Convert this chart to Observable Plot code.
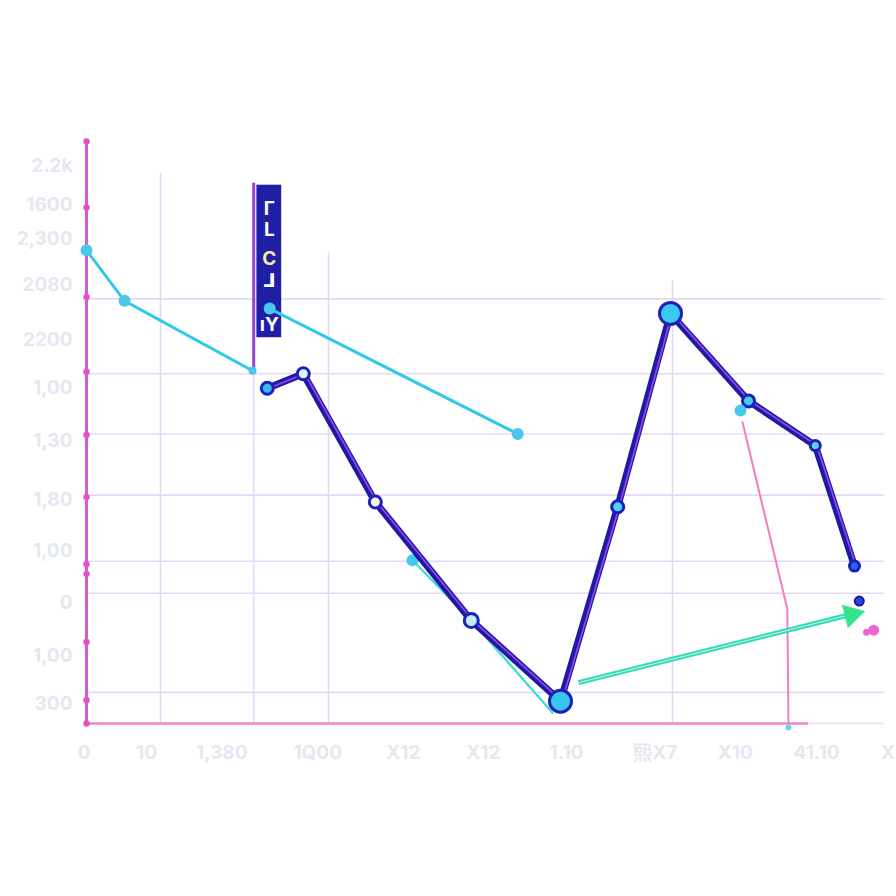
<!DOCTYPE html>
<html>
<head>
<meta charset="utf-8">
<script src="https://cdn.jsdelivr.net/npm/d3@7"></script>
<script src="https://cdn.jsdelivr.net/npm/@observablehq/plot@0.6"></script>
<style>
  html, body { margin: 0; padding: 0; background: #ffffff; }
  #chart svg { display: block; }
</style>
</head>
<body>
<div id="chart"></div>
<script>
// ---- data ----
const yTickValues = [574, 534, 499, 451, 395, 345, 291, 230, 178, 124, 70, 20];
const yTickLabels = ["2.2k", "1600", "2,300", "2080", "2200", "1,00", "1,30", "1,80", "1,00", "0", "1,00", "300"];
const xTickValues = [-0.3, 7.5, 16.9, 28.9, 39.6, 49.6, 60, 71.1, 81.1, 91.25, 100.2];
const xTickLabels = ["0", "10", "1,380", "1Q00", "X12", "X12", "1.10", "熙X7", "X10", "41.10", "X"];

const gridY = [437, 360, 298, 235, 167, 134, 32];
const gridX = [9.25, 20.9, 30.25, 73.25];
const gridXTop = [566, 556, 484, 456];

// cyan series (two segments)
const cyanAx = [0, 4.75, 20.75];
const cyanAy = [487, 435, 363];
const cyanAr = [6, 6, 4];
const cyanBx = [22.9, 53.9];
const cyanBy = [427, 298];
const cyanBr = [6, 6];

// navy main series
const navyX = [22.6, 27.1, 36.1, 48.1, 59.25, 66.4, 73.0, 82.75, 91.1, 96.0];
const navyY = [345, 360, 228, 106, 23, 223, 422, 332, 286, 162];
const navyR = [6, 6, 6, 7, 11, 6, 11, 6, 5, 5];
const navyFill = ["#3ab8f0", "#dff3ff", "#f4f6e6", "#c4ebfa", "#39c6ee", "#55d0f0", "#3cc8ef", "#48ccee", "#5fd4f2", "#2a66e8"];
const navyExtraX = [96.6];
const navyExtraY = [126];

// teal series
const tealX = [40.75, 48.1, 58.25];
const tealY = [168, 106, 11];

// green arrow
const arrowX1 = [61.5], arrowY1 = [42], arrowX2 = [96.4], arrowY2 = [114];

// pink series
const pinkX = [82, 87.6, 87.75];
const pinkY = [310, 118, 0];

// stray points
const loneCyanX = [81.75], loneCyanY = [322];
const pinkDotX = [98.4, 97.5], pinkDotY = [96, 94];
const axisDotY = [599, 531, 439, 362, 297, 233, 164, 154, 84, 24, 0];

// banner (garbled legend)
const bannerX1 = 21.3, bannerX2 = 24.4, bannerY1 = 397, bannerY2 = 554;
const bannerGlyphs = ["Γ", "L", "C", "⅃", "ıY"];
const bannerGlyphY = [530, 508, 478, 455, 410];
const bannerGlyphColor = ["#ffffff", "#ffffff", "#f3e9a8", "#ffffff", "#ffffff"];

// ---- build tables ----
const zip = (xs, ys, extra = {}) => xs.map((x, i) => {
  const o = {x, y: ys[i]};
  for (const k in extra) o[k] = extra[k][i];
  return o;
});
const cyanA = zip(cyanAx, cyanAy, {r: cyanAr});
const cyanB = zip(cyanBx, cyanBy, {r: cyanBr});
const navy = zip(navyX, navyY, {r: navyR, fill: navyFill});
const teal = zip(tealX, tealY);
const pink = zip(pinkX, pinkY);
const yTicks = yTickValues.map((v, i) => ({y: v, label: yTickLabels[i]}));
const xTicks = xTickValues.map((v, i) => ({x: v, label: xTickLabels[i]}));
const vGrid = gridX.map((x, i) => ({x, top: gridXTop[i]}));
const glyphs = bannerGlyphs.map((g, i) => ({t: g, y: bannerGlyphY[i], c: bannerGlyphColor[i]}));
const arrowAngle = 90 - Math.atan2(
  (arrowY2[0] - arrowY1[0]) * (583 / 600), (arrowX2[0] - arrowX1[0]) * 8) * 180 / Math.PI;

const labelColor = "#e4e8f1";

const chart = Plot.plot({
  width: 896,
  height: 896,
  marginTop: 140,
  marginBottom: 173,
  marginLeft: 86,
  marginRight: 10,
  x: {domain: [0, 100], axis: null},
  y: {domain: [0, 600], axis: null},
  r: {type: "identity"},
  color: {type: "identity"},
  style: {background: "#ffffff", fontFamily: "Inter, 'DejaVu Sans', sans-serif"},
  marks: [
    // grid
    Plot.ruleY(gridY, {x1: 0, x2: 99.7, stroke: "#e3d9f6", strokeWidth: 1.6}),
    Plot.ruleX(vGrid, {x: "x", y1: 0, y2: "top", stroke: "#e3d9f6", strokeWidth: 1.6}),
    // axes lines
    Plot.ruleY([0], {x1: 0, x2: 90.3, stroke: "#ef86c6", strokeWidth: 2.5}),
    Plot.ruleY([0], {x1: 90.3, x2: 99.7, stroke: "#ece4f6", strokeWidth: 2}),
    Plot.ruleX([0], {y1: 0, y2: 599, stroke: "#d45ad8", strokeWidth: 3}),
    Plot.dot(axisDotY, {x: 0, y: d => d, r: 3.2, fill: "#e44fc8"}),
    // tick labels
    Plot.text(yTicks, {x: 0, y: "y", text: "label", textAnchor: "end", dx: -14, fontSize: 19, fill: labelColor, fontWeight: "bold"}),
    Plot.text(xTicks, {x: "x", y: 0, text: "label", dy: 29, fontSize: 19, fill: labelColor, fontWeight: "bold"}),
    // banner
    Plot.ruleX([20.9], {y1: 360, y2: 556, stroke: "#9444d4", strokeWidth: 3}),
    Plot.rect([0], {x1: bannerX1, x2: bannerX2, y1: bannerY1, y2: bannerY2, fill: "#1f1fa6"}),
    Plot.text(glyphs, {x: (bannerX1 + bannerX2) / 2, y: "y", text: "t", fill: "c", fontSize: 19, fontWeight: "bold"}),
    // cyan lines
    Plot.line(cyanA, {x: "x", y: "y", stroke: "#31c9e6", strokeWidth: 3}),
    Plot.line(cyanB, {x: "x", y: "y", stroke: "#31c9e6", strokeWidth: 3}),
    Plot.dot(cyanA, {x: "x", y: "y", r: "r", fill: "#4cc6ea"}),
    Plot.dot(cyanB, {x: "x", y: "y", r: "r", fill: "#4cc6ea"}),
    // pink line
    Plot.line(pink, {x: "x", y: "y", stroke: "#f27cc2", strokeWidth: 2}),
    Plot.dot([0], {x: pinkX[2], y: 0, r: 3, fill: "#6ed0ee", dy: 4}),
    // teal line
    Plot.line(teal, {x: "x", y: "y", stroke: "#3fdcd0", strokeWidth: 2.2}),
    Plot.dot([0], {x: tealX[0], y: tealY[0], r: 6, fill: "#40c8ee"}),
    // green arrow
    Plot.link([0], {x1: arrowX1[0], y1: arrowY1[0], x2: arrowX2[0], y2: arrowY2[0], stroke: "#32d8b8", strokeWidth: 5}),
    Plot.link([0], {x1: arrowX1[0], y1: arrowY1[0], x2: arrowX2[0], y2: arrowY2[0], stroke: "#c8fbe8", strokeWidth: 1}),
    Plot.dot([0], {x: arrowX2[0], y: arrowY2[0], symbol: "triangle", r: 9, fill: "#34e48e", rotate: arrowAngle, dx: -6, dy: 2}),
    // navy main line
    Plot.line(navy, {x: "x", y: "y", stroke: "#1b1ba8", strokeWidth: 7, strokeLinejoin: "round"}),
    Plot.line(navy, {x: "x", y: "y", stroke: "#9a3fe0", strokeWidth: 1.8, dx: 1.5}),
    Plot.dot(navy, {x: "x", y: "y", r: "r", fill: "fill", stroke: "#1c22b8", strokeWidth: 3}),
    Plot.dot([0], {x: navyExtraX[0], y: navyExtraY[0], r: 4.5, fill: "#2448d0", stroke: "#1a1aa0", strokeWidth: 2}),
    // stray points
    Plot.dot([0], {x: loneCyanX[0], y: loneCyanY[0], r: 6, fill: "#44c8ee"}),
    Plot.dot(zip(pinkDotX, pinkDotY, {r: [5.5, 3.5]}), {x: "x", y: "y", r: "r", fill: "#f064d2"})
  ]
});
document.getElementById("chart").append(chart);
</script>
</body>
</html>
